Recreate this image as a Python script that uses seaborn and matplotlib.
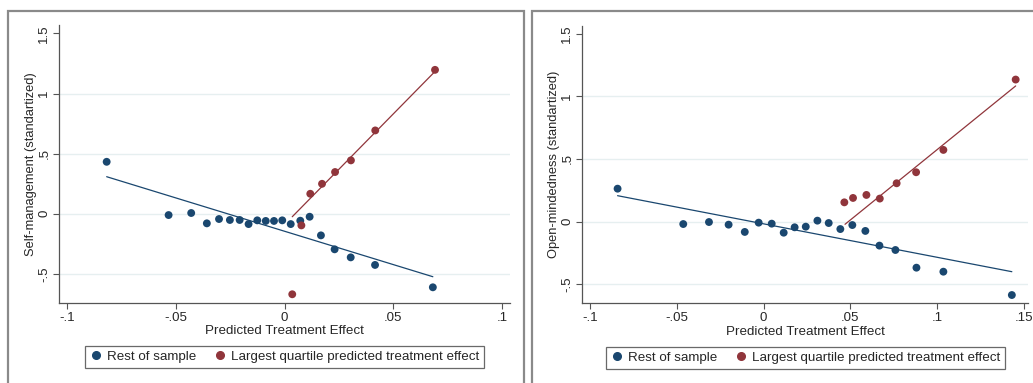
import matplotlib
matplotlib.use("Agg")
import matplotlib.pyplot as plt
from matplotlib.patches import Rectangle
from matplotlib.lines import Line2D
import seaborn as sns
import pandas as pd

# left panel: self-management (binned means)
sm_rest_x = [-0.0819, -0.0534, -0.0430, -0.0358, -0.0302, -0.0252, -0.0207, -0.0166, -0.0126, -0.0087,
             -0.0049, -0.0011, 0.0028, 0.0072, 0.0115, 0.0167, 0.0230, 0.0304, 0.0416, 0.0682]
sm_rest_y = [0.432, -0.011, 0.006, -0.080, -0.044, -0.052, -0.052, -0.086, -0.055, -0.060,
             -0.060, -0.055, -0.086, -0.058, -0.025, -0.180, -0.296, -0.363, -0.426, -0.612]
sm_top_x = [0.0035, 0.0077, 0.0118, 0.0172, 0.0232, 0.0305, 0.0417, 0.0692]
sm_top_y = [-0.670, -0.097, 0.166, 0.249, 0.347, 0.444, 0.693, 1.197]
# fitted lines (on underlying data), endpoints
sm_rest_fit_x = [-0.0819, 0.0682]
sm_rest_fit_y = [0.308, -0.524]
sm_top_fit_x = [0.0035, 0.0690]
sm_top_fit_y = [-0.025, 1.180]

# right panel: open-mindedness
om_rest_x = [-0.0840, -0.0462, -0.0314, -0.0201, -0.0108, -0.0028, 0.0047, 0.0116, 0.0179, 0.0243,
             0.0310, 0.0375, 0.0442, 0.0511, 0.0586, 0.0667, 0.0759, 0.0880, 0.1035, 0.1429]
om_rest_y = [0.263, -0.019, -0.003, -0.024, -0.082, -0.008, -0.016, -0.088, -0.045, -0.040,
             0.008, -0.011, -0.059, -0.027, -0.074, -0.191, -0.226, -0.367, -0.399, -0.585]
om_top_x = [0.0465, 0.0515, 0.0592, 0.0669, 0.0766, 0.0878, 0.1035, 0.1451]
om_top_y = [0.154, 0.189, 0.213, 0.184, 0.306, 0.394, 0.572, 1.133]
om_rest_fit_x = [-0.0840, 0.1429]
om_rest_fit_y = [0.207, -0.399]
om_top_fit_x = [0.0469, 0.1451]
om_top_fit_y = [-0.021, 1.082]

groups = ["Rest of sample", "Largest quartile predicted treatment effect"]
y_ticks = [-0.5, 0, 0.5, 1, 1.5]
y_ticklabels = ["-.5", "0", ".5", "1", "1.5"]
sm_xticks = [-0.1, -0.05, 0, 0.05, 0.1]
sm_xticklabels = ["-.1", "-.05", "0", ".05", ".1"]
om_xticks = [-0.1, -0.05, 0, 0.05, 0.1, 0.15]
om_xticklabels = ["-.1", "-.05", "0", ".05", ".1", ".15"]

navy = "#1a476f"
maroon = "#90353b"
colors = {groups[0]: navy, groups[1]: maroon}

sns.set_style("white")
plt.rcParams["font.family"] = ["Liberation Sans", "DejaVu Sans"]


def make_df(rx, ry, tx, ty):
    return pd.DataFrame({
        "x": rx + tx,
        "y": ry + ty,
        "group": [groups[0]] * len(rx) + [groups[1]] * len(tx),
    })


def draw_panel(ax, df, fits, ylabel, xlim, ylim, xticks, xticklabels):
    for g, (fx, fy) in zip(groups, fits):
        sns.lineplot(x=fx, y=fy, color=colors[g], lw=0.9, ax=ax, zorder=2)
    sns.scatterplot(data=df, x="x", y="y", hue="group", palette=colors, ax=ax,
                    s=32, edgecolor="none", legend=False, zorder=3)
    ax.set_xlim(xlim)
    ax.set_ylim(ylim)
    ax.set_xticks(xticks)
    ax.set_xticklabels(xticklabels, fontsize=9.5)
    ax.set_yticks(y_ticks)
    ax.set_yticklabels(y_ticklabels, fontsize=9.5, rotation=90, va="center")
    ax.tick_params(axis="both", length=4.5, width=0.8, color="#555555", pad=2,
                   bottom=True, left=True)
    for side in ["top", "right"]:
        ax.spines[side].set_visible(False)
    for side in ["left", "bottom"]:
        ax.spines[side].set_color("#555555")
        ax.spines[side].set_linewidth(0.9)
    ax.set_xlabel("Predicted Treatment Effect", fontsize=9.6, labelpad=1)
    ax.set_ylabel(ylabel, fontsize=9.3, labelpad=1)
    for yv in y_ticks[:-1]:
        ax.axhline(yv, color="#e6eff0", lw=1.0, zorder=0)


fig = plt.figure(figsize=(10.33, 3.83), dpi=100)
ax1 = fig.add_axes([0.0574, 0.2097, 0.4363, 0.725])
ax2 = fig.add_axes([0.5637, 0.2081, 0.4318, 0.724])

draw_panel(ax1, make_df(sm_rest_x, sm_rest_y, sm_top_x, sm_top_y),
           [(sm_rest_fit_x, sm_rest_fit_y), (sm_top_fit_x, sm_top_fit_y)],
           "Self-management (standartized)", (-0.1037, 0.1037), (-0.74, 1.57),
           sm_xticks, sm_xticklabels)
draw_panel(ax2, make_df(om_rest_x, om_rest_y, om_top_x, om_top_y),
           [(om_rest_fit_x, om_rest_fit_y), (om_top_fit_x, om_top_fit_y)],
           "Open-mindedness (standartized)", (-0.1043, 0.1524), (-0.651, 1.56),
           om_xticks, om_xticklabels)

handles = [Line2D([], [], marker="o", ls="none", color=colors[g], markersize=5.5) for g in groups]
for cx, cy in [(0.2754, 0.0687), (0.7796, 0.066)]:
    leg = fig.legend(handles, groups, loc="center", bbox_to_anchor=(cx, cy), ncol=2,
                     fontsize=9.6, frameon=True, fancybox=False, edgecolor="#444444",
                     handletextpad=0.3, columnspacing=1.3, borderpad=0.35, handlelength=1.0)
    leg.get_frame().set_linewidth(0.9)

# outer graph borders
fig.patches.append(Rectangle((7.5 / 1033, -0.1), (524 - 7.5) / 1033, 1.1 - 11 / 383,
                             transform=fig.transFigure, fill=False, edgecolor="#8a8a8a", lw=1.6))
fig.patches.append(Rectangle((532 / 1033, -0.1), 0.6, 1.1 - 11 / 383,
                             transform=fig.transFigure, fill=False, edgecolor="#8a8a8a", lw=1.6))

fig.savefig("out.png", dpi=100)
